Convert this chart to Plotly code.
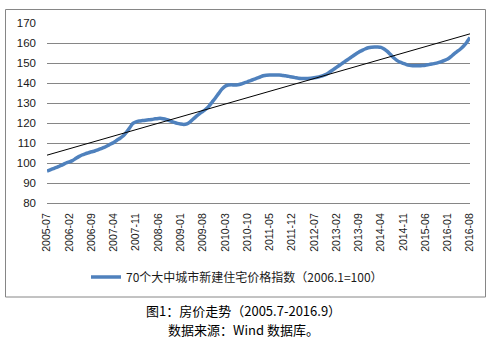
import numpy as np
import plotly.graph_objects as go

# Monthly 70-city new residential price index (2006.1 = 100), 2005-07 .. 2016-08
start_year, start_month = 2005, 7
index_values = [
    96.0, 96.6, 97.2, 97.8, 98.5, 99.2,                                                # 2005 Jul-Dec
    100.0, 100.6, 101.2, 102.2, 103.2, 104.0, 104.6, 105.1, 105.6, 106.0, 106.6, 107.2,  # 2006
    107.8, 108.6, 109.5, 110.3, 111.4, 112.4, 113.6, 115.4, 117.6, 119.8, 120.6, 121.0,  # 2007
    121.2, 121.4, 121.6, 121.8, 122.1, 122.3, 122.3, 122.0, 121.5, 120.9, 120.3, 119.8,  # 2008
    119.5, 119.3, 119.6, 120.6, 122.0, 123.4, 124.7, 125.8, 127.0, 128.6, 130.6, 132.6,  # 2009
    134.8, 136.9, 138.4, 139.0, 139.1, 139.0, 139.1, 139.5, 140.1, 140.6, 141.2, 141.8,  # 2010
    142.4, 143.0, 143.6, 143.9, 144.0, 144.0, 144.0, 144.0, 143.8, 143.6, 143.3, 143.0,  # 2011
    142.7, 142.4, 142.3, 142.3, 142.3, 142.4, 142.6, 142.9, 143.3, 143.8, 144.5, 145.6,  # 2012
    146.7, 147.8, 148.9, 150.0, 151.1, 152.2, 153.3, 154.4, 155.4, 156.2, 157.0, 157.6,  # 2013
    157.9, 158.0, 158.0, 157.8, 157.0, 155.8, 154.2, 152.6, 151.3, 150.4, 149.8, 149.2,  # 2014
    148.8, 148.6, 148.6, 148.6, 148.7, 148.9, 149.2, 149.5, 149.8, 150.2, 150.7, 151.3,  # 2015
    152.0, 153.2, 154.6, 155.8, 157.0, 158.5, 160.4, 162.8,                              # 2016 Jan-Aug
]

months = []
for k in range(len(index_values)):
    m = start_month - 1 + k
    months.append(f"{start_year + m // 12}-{m % 12 + 1:02d}")

tick_labels = months[::7]
series_name = "70个大中城市新建住宅价格指数（2006.1=100）"
caption_1 = "图1：房价走势（2005.7-2016.9）"
caption_2 = "数据来源：Wind 数据库。"

# Linear trend fitted over the month positions
pos = np.arange(len(index_values))
slope, intercept = np.polyfit(pos, index_values, 1)
trend = (slope * pos + intercept).tolist()

fig = go.Figure()
fig.add_trace(go.Scatter(
    x=months, y=index_values, mode="lines", name=series_name,
    line=dict(color="#4F81BD", width=3.5, shape="spline", smoothing=0.6),
))
fig.add_trace(go.Scatter(
    x=months, y=trend, mode="lines", showlegend=False,
    line=dict(color="#000000", width=1),
))

L, R, T, B = 47, 23, 23, 145
W, H = 493, 348
pw, ph = W - L - R, H - T - B

def px_x(p):
    return (p - L) / pw

def px_y(p):
    return (H - B - p) / ph

# Chart-area frame, drawn as four paper-anchored edges
fx0, fx1, fy0, fy1 = px_x(5.5), px_x(485.5), px_y(297), px_y(9.5)
frame_style = dict(color="#868686", width=1)
frame = [
    dict(type="line", xref="paper", yref="paper", x0=fx0, x1=fx1, y0=fy1, y1=fy1, line=frame_style),
    dict(type="line", xref="paper", yref="paper", x0=fx0, x1=fx1, y0=fy0, y1=fy0, line=frame_style),
    dict(type="line", xref="paper", yref="paper", x0=fx0, x1=fx0, y0=fy0, y1=fy1, line=frame_style),
    dict(type="line", xref="paper", yref="paper", x0=fx1, x1=fx1, y0=fy0, y1=fy1, line=frame_style),
]

fig.update_layout(
    width=W, height=H,
    margin=dict(l=L, r=R, t=T, b=B),
    paper_bgcolor="white", plot_bgcolor="rgba(0,0,0,0)",
    font=dict(family="Liberation Sans, Arial, sans-serif", color="#1a1a1a"),
    showlegend=True,
    legend=dict(
        x=px_x(86), y=px_y(277), xanchor="left", yanchor="middle",
        orientation="h", bgcolor="rgba(0,0,0,0)",
        font=dict(family="Noto Sans CJK SC", size=12, color="#1a1a1a"),
        itemwidth=30,
    ),
    xaxis=dict(
        type="category", range=[0, len(months) - 1],
        tickmode="array", tickvals=tick_labels, ticktext=tick_labels,
        tickangle=-90, tickfont=dict(size=10.5),
        showgrid=False, showline=True, linecolor="#868686", linewidth=1,
        ticks="", ticklabelstandoff=5,
    ),
    yaxis=dict(
        range=[80, 170], dtick=10, tick0=80,
        showgrid=True, gridcolor="#868686", gridwidth=1,
        zeroline=False, showline=False, ticks="",
        tickfont=dict(size=11.5), ticklabelstandoff=10,
    ),
    shapes=frame,
    annotations=[
        dict(text=caption_1, xref="paper", yref="paper", x=px_x(243), y=px_y(310),
             xanchor="center", yanchor="middle", showarrow=False,
             font=dict(family="Noto Sans CJK SC", size=13, color="#000000")),
        dict(text=caption_2, xref="paper", yref="paper", x=px_x(243), y=px_y(329),
             xanchor="center", yanchor="middle", showarrow=False,
             font=dict(family="Noto Sans CJK SC", size=13, color="#000000")),
    ],
)

fig.write_html("out.html")
